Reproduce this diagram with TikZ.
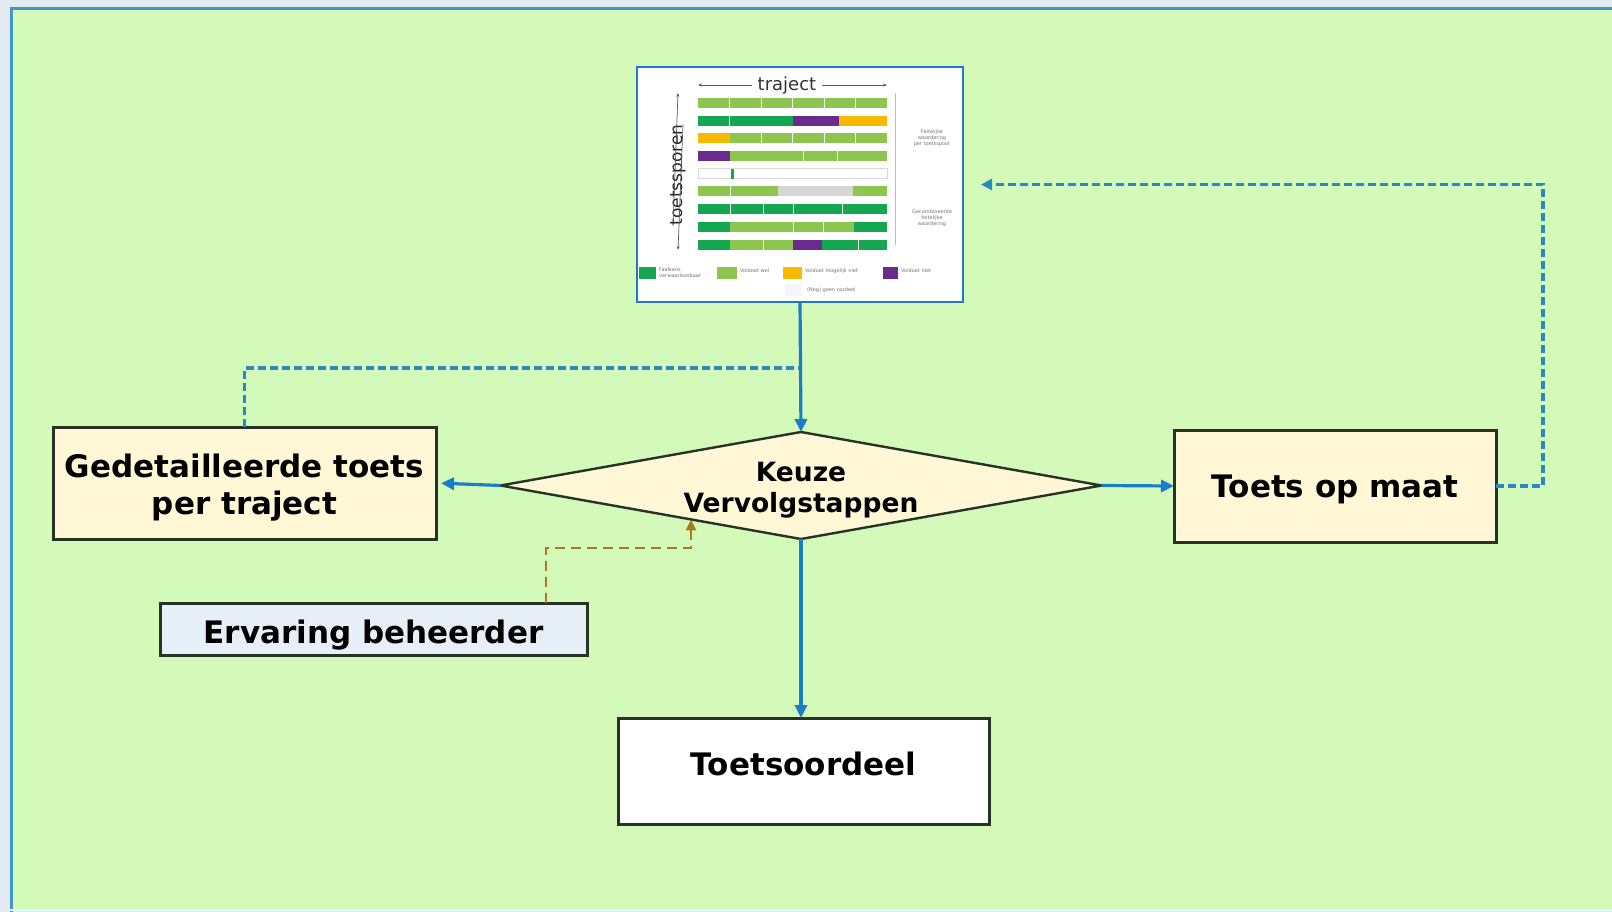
\documentclass[tikz,border=0pt]{standalone}
\usepackage{fontspec}
\setmainfont{DejaVu Sans}
\usetikzlibrary{arrows.meta,shapes.geometric,calc}

\definecolor{outbg}{HTML}{E2EAF2}
\definecolor{panel}{HTML}{D4FAB9}
\definecolor{frameblue}{HTML}{3F95C9}
\definecolor{cream}{HTML}{FFF7D6}
\definecolor{paleblue}{HTML}{E6EEF8}
\definecolor{boxline}{HTML}{263326}
\definecolor{flowblue}{HTML}{1A7EC6}
\definecolor{loopblue}{HTML}{2A88C4}
\definecolor{ochre}{HTML}{A67C1E}
\definecolor{dg}{HTML}{14A651}
\definecolor{lg}{HTML}{8DC64F}
\definecolor{pu}{HTML}{6B2A8E}
\definecolor{ye}{HTML}{F9B900}
\definecolor{gy}{HTML}{D6D6D6}
\definecolor{chartline}{HTML}{1F78C8}

% one coloured piece of a bar: from x #1 to x #2 on row #3
\newcommand\barseg[4]{\fill[#4] (#1,#3-5) rectangle (#2,#3+5);}
% white separator inside a bar
\newcommand\bardiv[2]{\draw[white,line width=0.9pt] (#1,#2-5) -- (#1,#2+5);}
% invisible strut that lowers a label inside its box
\newcommand\lift[1]{\rule{0pt}{#1}}

\begin{document}
\begin{tikzpicture}[x=1pt,y=-1pt,
  box/.style={draw=boxline,line width=3pt,inner sep=0pt,outer sep=0pt,
    font=\fontsize{31}{37}\selectfont\bfseries,align=center},
  decision/.style={diamond,draw=boxline,line width=2.4pt,fill=cream,inner sep=0pt,
    outer sep=0pt,aspect=5.6,font=\fontsize{26.5}{31}\selectfont\bfseries,align=center},
  flow/.style={draw=flowblue,line width=3.2pt,-{Triangle[length=13pt,width=12pt]}},
  loop/.style={draw=loopblue,line width=3.2pt,dash pattern=on 8pt off 4pt},
  hint/.style={draw=ochre,line width=2.4pt,dash pattern=on 10pt off 6pt,
    -{Triangle[length=11pt,width=10pt]}},
  tiny/.style={font=\fontsize{5}{6}\selectfont,text=black!55,inner sep=0pt,align=left},
  axis/.style={draw=black!65,line width=0.7pt}]

\useasboundingbox (0,0) rectangle (1612,912);

% page background and panel
\fill[outbg] (0,0) rectangle (1612,912);
\fill[panel] (10,8) rectangle (1612,909);
\draw[frameblue,line width=3pt] (11.5,912) -- (11.5,8.5) -- (1612,8.5);
\draw[cyan!12,line width=2pt] (10,910) -- (1612,910);

% nodes
\node[draw=chartline,line width=2pt,fill=white,minimum width=326pt,minimum height=235pt,
  inner sep=0pt,outer sep=0pt] (chart) at (800,184.5) {};
\node[decision,minimum width=601pt,minimum height=107pt] (kz) at (801,485.5)
  {\lift{28pt}Keuze\\Vervolgstappen};
\node[box,fill=cream,minimum width=383pt,minimum height=112pt] (gd) at (244.5,483)
  {\lift{32.5pt}Gedetailleerde toets\\per traject};
\node[box,fill=cream,minimum width=322pt,minimum height=112pt] (tom) at (1335,486)
  {\lift{29.5pt}Toets op maat};
\node[box,fill=paleblue,minimum width=427pt,minimum height=52pt] (eb) at (373.5,629)
  {\lift{35pt}Ervaring beheerder};
\node[box,fill=white,minimum width=371pt,minimum height=106pt,text depth=14pt] (to)
  at (803.5,771) {Toetsoordeel};

% chart contents: axes
\node[font=\fontsize{18}{20}\selectfont,text=black!80,inner sep=6pt] (trj) at (787,86) {traject};
\draw[axis,{Stealth[length=4pt,width=3pt]}-] (698,85) -- (trj.west |- 0,85);
\draw[axis,-{Stealth[length=4pt,width=3pt]}] (trj.east |- 0,85) -- (887,85);
\node[font=\fontsize{17}{18}\selectfont,text=black!85,inner sep=0pt,rotate=90] (tsp)
  at (678,175) {toetssporen};
\draw[axis,-{Stealth[length=4pt,width=3pt]}] ([xshift=-5pt]tsp.west) -- (678,93);
\draw[axis,-{Stealth[length=4pt,width=3pt]}] ([xshift=5pt]tsp.east) -- (678,250);
\draw[draw=black!25,line width=0.7pt] (895,93) -- (895,245);

% chart contents: bars
\barseg{698}{887}{103}{lg}
\foreach \d in {729.5,761,792.5,824,855.5} {\bardiv{\d}{103}}
\barseg{698}{792.5}{120.7}{dg}\barseg{792.5}{839}{120.7}{pu}\barseg{839}{887}{120.7}{ye}
\bardiv{729.5}{120.7}
\barseg{698}{730}{138.4}{ye}\barseg{730}{887}{138.4}{lg}
\foreach \d in {761,792.5,824,855.5} {\bardiv{\d}{138.4}}
\barseg{698}{730}{156.1}{pu}\barseg{730}{887}{156.1}{lg}
\foreach \d in {803,837} {\bardiv{\d}{156.1}}
\draw[black!15,line width=0.6pt] (698,168.8) rectangle (887,178.8);
\fill[dg] (731,168.8) rectangle (734,178.8);
\barseg{698}{778}{191.5}{lg}\barseg{778}{853}{191.5}{gy}\barseg{853}{887}{191.5}{lg}
\bardiv{730}{191.5}
\barseg{698}{887}{209.2}{dg}
\foreach \d in {730,763,793,842} {\bardiv{\d}{209.2}}
\barseg{698}{730}{226.9}{dg}\barseg{730}{854}{226.9}{lg}\barseg{854}{887}{226.9}{dg}
\foreach \d in {793,823} {\bardiv{\d}{226.9}}
\barseg{698}{730}{244.6}{dg}\barseg{730}{793}{244.6}{lg}\barseg{793}{822}{244.6}{pu}
\barseg{822}{887}{244.6}{dg}
\bardiv{763}{244.6}\bardiv{858}{244.6}

% chart contents: side notes
\node[tiny,align=center] at (932,138) {Feitelijke\\waardering\\per toetsspoor};
\node[tiny,align=center] at (932,218) {Gecombineerde\\feitelijke\\waardering};

% chart contents: legend
\fill[dg] (639,267) rectangle (656,279);
\node[tiny,anchor=west] at (659,273) {Faalkans\\verwaarloosbaar};
\fill[lg] (717,267) rectangle (737,279);
\node[tiny,anchor=west] at (740,271) {Voldoet wel};
\fill[ye] (783,267) rectangle (802,279);
\node[tiny,anchor=west] at (805,271) {Voldoet mogelijk niet};
\fill[pu] (883,267) rectangle (898,279);
\node[tiny,anchor=west] at (901,271) {Voldoet niet};
\fill[blue!4] (785,284) rectangle (802,296);
\node[tiny,anchor=west] at (807,290) {(Nog) geen oordeel};

% connectors
\coordinate (j1) at (800,368);
\coordinate (rt) at (1543,186);
\coordinate (bj) at (691,548);
\draw[flow] (chart.south) -- (kz.north);
\draw[flow,shorten >=5pt] (kz.west) -- (gd.east);
\draw[flow] (kz.east) -- (tom.west);
\draw[flow] (kz.south) -- (kz.south |- to.north);
\draw[loop] (gd.north) |- (j1);
\draw[loop,-{Triangle[length=11pt,width=11pt]},shorten >=18pt]
  (tom.east) -| (rt |- chart.east) -- (chart.east);
\draw[hint] ([xshift=172.5pt]eb.north) |- (bj) -- (bj |- kz.197);

\end{tikzpicture}
\end{document}
